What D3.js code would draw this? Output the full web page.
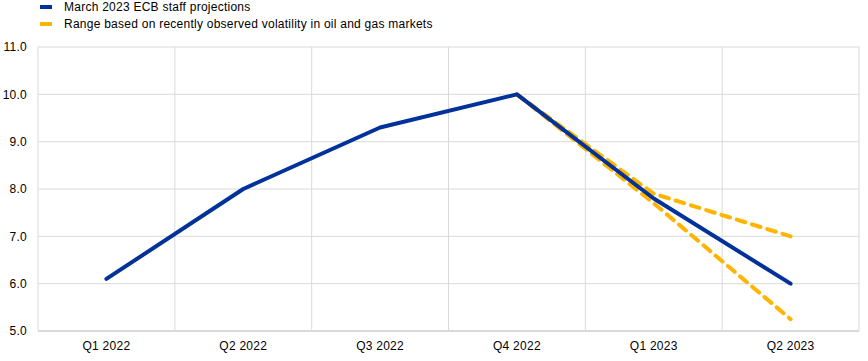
<!DOCTYPE html>
<html>
<head>
<meta charset="utf-8">
<script src="https://cdn.jsdelivr.net/npm/d3@7"></script>
<style>
body { margin: 0; background: #fff; }
svg { display: block; font-family: "Liberation Sans", Arial, sans-serif; }
text { letter-spacing: 0.25px; }
</style>
</head>
<body>
<svg></svg>
<script>
const quarters = ['Q1 2022', 'Q2 2022', 'Q3 2022', 'Q4 2022', 'Q1 2023', 'Q2 2023'];
const projection = [6.1, 8.0, 9.3, 10.0, 7.8, 6.0];
const rangeUpper = [null, null, null, 10.0, 7.9, 7.0];
const rangeLower = [null, null, null, 10.0, 7.7, 5.25];
const yTicks = [5, 6, 7, 8, 9, 10, 11];
const legendLabels = ['March 2023 ECB staff projections', 'Range based on recently observed volatility in oil and gas markets'];

const width = 868;
const height = 361;
const margin = {top: 47, right: 9, bottom: 30, left: 38};
const blue = '#003299';
const yellow = '#ffb400';
const gridColor = '#d9d9d9';

var svg = d3.select('svg').attr('width', width).attr('height', height);

var x = d3.scaleBand().domain(quarters).range([margin.left, width - margin.right]);
var y = d3.scaleLinear().domain([5, 11]).range([height - margin.bottom, margin.top]);

// horizontal grid
svg.append('g').selectAll('line').data(yTicks).enter().append('line')
	.attr('x1', margin.left).attr('x2', width - margin.right)
	.attr('y1', d => y(d)).attr('y2', d => y(d))
	.style('stroke', gridColor).style('stroke-width', 1);

// vertical grid at band edges
var edges = quarters.map(q => x(q)).concat([x(quarters[quarters.length - 1]) + x.bandwidth()]);
svg.append('g').selectAll('line').data(edges).enter().append('line')
	.attr('x1', d => d).attr('x2', d => d)
	.attr('y1', y(11)).attr('y2', y(5))
	.style('stroke', gridColor).style('stroke-width', 1);

// bottom axis line
svg.append('line')
	.attr('x1', margin.left).attr('x2', width - margin.right)
	.attr('y1', y(5)).attr('y2', y(5))
	.style('stroke', gridColor).style('stroke-width', 2);

// y labels
svg.append('g').selectAll('text').data(yTicks).enter().append('text')
	.attr('x', 27).attr('y', d => y(d)).attr('dy', '0.35em')
	.attr('text-anchor', 'end').style('font-size', '12px').style('fill', '#000')
	.text(d => d.toFixed(1));

// x labels
svg.append('g').selectAll('text').data(quarters).enter().append('text')
	.attr('x', d => x(d) + x.bandwidth() / 2).attr('y', 350)
	.attr('text-anchor', 'middle').style('font-size', '12px').style('fill', '#000')
	.text(d => d);

var line = d3.line()
	.defined(d => d.v !== null)
	.x(d => x(d.q) + x.bandwidth() / 2)
	.y(d => y(d.v));

function series(vals){
	return quarters.map((q, i) => ({q: q, v: vals[i]}));
}

[rangeUpper, rangeLower].forEach(function(vals){
	svg.append('path').datum(series(vals))
		.attr('d', line)
		.style('fill', 'none').style('stroke', yellow)
		.style('stroke-width', 4).style('stroke-dasharray', '9,7')
		.style('stroke-linecap', 'round');
});

svg.append('path').datum(series(projection))
	.attr('d', line)
	.style('fill', 'none').style('stroke', blue)
	.style('stroke-width', 4).style('stroke-linejoin', 'round')
	.style('stroke-linecap', 'round');

// legend
var legend = svg.append('g').selectAll('g').data(legendLabels).enter().append('g')
	.attr('transform', (d, i) => 'translate(40,' + (7 + i * 17) + ')');
legend.append('rect')
	.attr('x', 0).attr('y', -2).attr('width', 12).attr('height', 4)
	.style('fill', (d, i) => i === 0 ? blue : yellow);
legend.append('text')
	.attr('x', 24).attr('y', 0).attr('dy', '0.35em')
	.style('font-size', '12px').style('fill', '#000')
	.text(d => d);
</script>
</body>
</html>
